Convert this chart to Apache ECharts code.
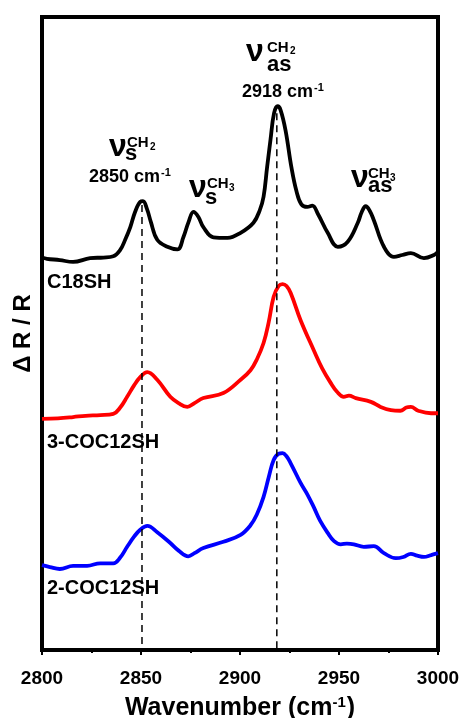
<!DOCTYPE html>
<html>
<head>
<meta charset="utf-8">
<script src="https://cdn.jsdelivr.net/npm/echarts@6/dist/echarts.min.js"></script>
<style>
  html, body { margin: 0; padding: 0; background: #fff; }
  #chart { width: 462px; height: 718px; }
</style>
</head>
<body>
<div id="chart"></div>
<script>
// wavenumber (cm-1) and offset ΔR/R (arbitrary units)
var wBlack = [2800, 2802.5, 2809, 2815.7, 2824.3, 2831, 2836, 2839.5, 2842, 2844.6, 2847, 2849.6, 2851, 2853, 2855, 2858.2, 2863.3, 2868.4, 2871.4, 2874, 2876.5, 2879, 2881.5, 2886.6, 2893.7, 2900.3, 2906.8, 2910, 2911.9, 2913.7, 2915.4, 2917.2, 2919, 2920.5, 2923, 2926, 2928.5, 2931, 2934, 2936.5, 2939.5, 2944.3, 2949.4, 2954.4, 2959.5, 2961.5, 2963.5, 2965.5, 2967.6, 2972.7, 2977.7, 2982, 2986.3, 2992.9, 2998, 3000];
var vBlack = [62.0, 61.8, 61.6, 61.3, 61.9, 62.0, 62.2, 63.2, 64.8, 66.8, 69.2, 70.8, 70.9, 69.7, 67.6, 64.8, 63.7, 63.3, 65.2, 67.6, 69.2, 68.4, 66.8, 65.2, 65.1, 65.9, 67.5, 69.5, 71.6, 76.3, 80.6, 84.8, 85.9, 85.3, 82.1, 76.2, 72.5, 70.4, 70.0, 70.2, 68.8, 65.9, 63.7, 64.5, 67.5, 69.2, 70.1, 69.4, 67.9, 63.7, 62.1, 62.4, 62.7, 61.9, 62.4, 62.9];

var wRed = [2800, 2808, 2815.7, 2822, 2829.4, 2836, 2839.5, 2843, 2846.5, 2849.6, 2853.2, 2858.2, 2864.8, 2869, 2873.4, 2877, 2881.5, 2891.6, 2900.3, 2905.3, 2908.5, 2911.9, 2914.5, 2917, 2919.5, 2921.5, 2923.5, 2925.6, 2930.6, 2937.2, 2941.5, 2945.8, 2949, 2952.4, 2955, 2958.5, 2966.1, 2971, 2976.2, 2981, 2984, 2986.3, 2990, 2996.5, 3000];
var vRed = [36.5, 36.6, 36.8, 37.0, 37.1, 37.3, 38.3, 40.0, 41.8, 43.1, 43.9, 42.7, 40.0, 39.0, 38.4, 39.0, 39.8, 40.6, 42.7, 44.2, 45.9, 48.5, 51.8, 55.8, 57.5, 57.8, 57.5, 56.4, 52.1, 47.4, 44.5, 42.2, 40.8, 40.0, 40.2, 39.8, 39.2, 38.4, 37.9, 37.8, 38.3, 38.4, 37.8, 37.4, 37.4];

var wBlue = [2800, 2804, 2809, 2815.7, 2822.8, 2829.4, 2836, 2839.5, 2843, 2846.5, 2849.6, 2853.2, 2858.2, 2864.8, 2869, 2873.9, 2877, 2881.5, 2891.6, 2900.3, 2905.3, 2908.5, 2911.9, 2914.5, 2917, 2919.5, 2921.5, 2923.5, 2925.6, 2930.6, 2934, 2937.2, 2940.5, 2944.3, 2947.5, 2950.9, 2954, 2957.5, 2962.5, 2967.6, 2972.7, 2978.7, 2982.5, 2986.3, 2989.5, 2992.9, 2996.5, 3000];
var vBlue = [13.4, 13.1, 12.8, 13.3, 13.3, 13.7, 13.7, 14.6, 16.3, 17.9, 19.0, 19.6, 18.6, 16.9, 15.7, 14.8, 15.3, 16.1, 17.1, 18.2, 19.7, 21.4, 24.2, 27.3, 30.0, 31.0, 31.1, 30.6, 29.5, 26.4, 24.6, 22.6, 20.4, 18.5, 17.2, 16.7, 16.8, 16.7, 16.3, 16.4, 15.3, 14.5, 14.7, 15.2, 14.9, 14.7, 15.0, 15.3];

// dashed guide lines at the CH2 peaks
var peakPos = [2850.5, 2918.6];
var peakTop = [70.3, 84.8];

var myChart = echarts.init(document.getElementById('chart'));

function pairs(xs, ys){
    var out = [];
    for (var i = 0; i < xs.length; i++) {
        out.push([xs[i], ys[i]]);
    }
    return out;
}

var FONT = 'Arial, "Liberation Sans", sans-serif';

function txt(x, y, str, size){
    return {
        type: 'text',
        left: x,
        top: y - size / 2,
        z: 100,
        style: {
            text: str,
            fill: '#000',
            font: 'bold ' + size + 'px ' + FONT
        }
    };
}

var series = [
    { name: 'C18SH', data: pairs(wBlack, vBlack), color: '#000000' },
    { name: '3-COC12SH', data: pairs(wRed, vRed), color: '#ff0000' },
    { name: '2-COC12SH', data: pairs(wBlue, vBlue), color: '#0000ff' }
].map(function(s){
    return {
        name: s.name,
        type: 'line',
        data: s.data,
        smooth: 0.4,
        showSymbol: false,
        lineStyle: { color: s.color, width: 3.8 },
        z: 2
    };
});

peakPos.forEach(function(p, i){
    series.push({
        type: 'line',
        data: [[p, peakTop[i]], [p, 0]],
        showSymbol: false,
        silent: true,
        lineStyle: { color: '#000', width: 1.5, type: [7, 5] },
        z: 5
    });
});

var option = {
    animation: false,
    backgroundColor: '#fff',
    grid: {
        left: 42, right: 24, top: 17, bottom: 68,
        outerBoundsMode: 'none',
        containLabel: false,
        show: true, borderColor: '#000', borderWidth: 4
    },
    xAxis: {
        type: 'value',
        min: 2800, max: 3000, interval: 50,
        name: 'Wavenumber (cm{sup|-1})',
        nameLocation: 'middle',
        nameGap: 45,
        nameTextStyle: {
            fontFamily: FONT, fontWeight: 'bold', fontSize: 25, color: '#000',
            rich: {
                sup: { fontFamily: FONT, fontWeight: 'bold', fontSize: 15, color: '#000', verticalAlign: 'top', padding: [0, 1, 12, 0] }
            }
        },
        axisLine: { show: true, lineStyle: { color: '#000', width: 4 } },
        axisTick: { show: true, inside: false, length: 5, lineStyle: { color: '#000', width: 2 } },
        minorTick: { show: true, splitNumber: 2, length: 3, lineStyle: { color: '#000', width: 2 } },
        splitLine: { show: false },
        axisLabel: {
            margin: 19,
            fontFamily: FONT, fontWeight: 'bold', fontSize: 19, color: '#000',
            formatter: function(v){ return String(v); }
        }
    },
    yAxis: {
        type: 'value',
        min: 0, max: 100,
        name: 'Δ R / R',
        nameLocation: 'middle',
        nameGap: 7,
        nameRotate: 90,
        nameTextStyle: { fontFamily: FONT, fontWeight: 'bold', fontSize: 24, color: '#000' },
        axisLine: { show: true, lineStyle: { color: '#000', width: 4 } },
        axisTick: { show: false },
        axisLabel: { show: false },
        splitLine: { show: false }
    },
    graphic: [
        // sample names
        txt(47, 282, 'C18SH', 20),
        txt(47, 442, '3-COC12SH', 20),
        txt(47, 588, '2-COC12SH', 20),

        // ν s CH2 / 2850
        txt(109, 147, 'ν', 32),
        txt(127, 142.5, 'CH', 15),
        txt(150, 147, '2', 10),
        txt(125, 154, 's', 22),
        txt(89, 177.5, '2850 cm', 18),
        txt(161, 173, '-1', 11),

        // ν s CH3
        txt(189, 188.4, 'ν', 32),
        txt(207, 184, 'CH', 15),
        txt(229, 188, '3', 10),
        txt(205, 197.6, 's', 22),

        // ν as CH2 / 2918
        txt(246, 52, 'ν', 32),
        txt(267, 47.5, 'CH', 15),
        txt(290, 51.5, '2', 10),
        txt(267, 64.6, 'as', 22),
        txt(242, 92.5, '2918 cm', 18),
        txt(314, 88, '-1', 11),

        // ν as CH3
        txt(351, 178.4, 'ν', 32),
        txt(368, 174, 'CH', 15),
        txt(390, 178, '3', 10),
        txt(368, 185.6, 'as', 22)
    ],
    series: series
};

myChart.setOption(option);
</script>
</body>
</html>
